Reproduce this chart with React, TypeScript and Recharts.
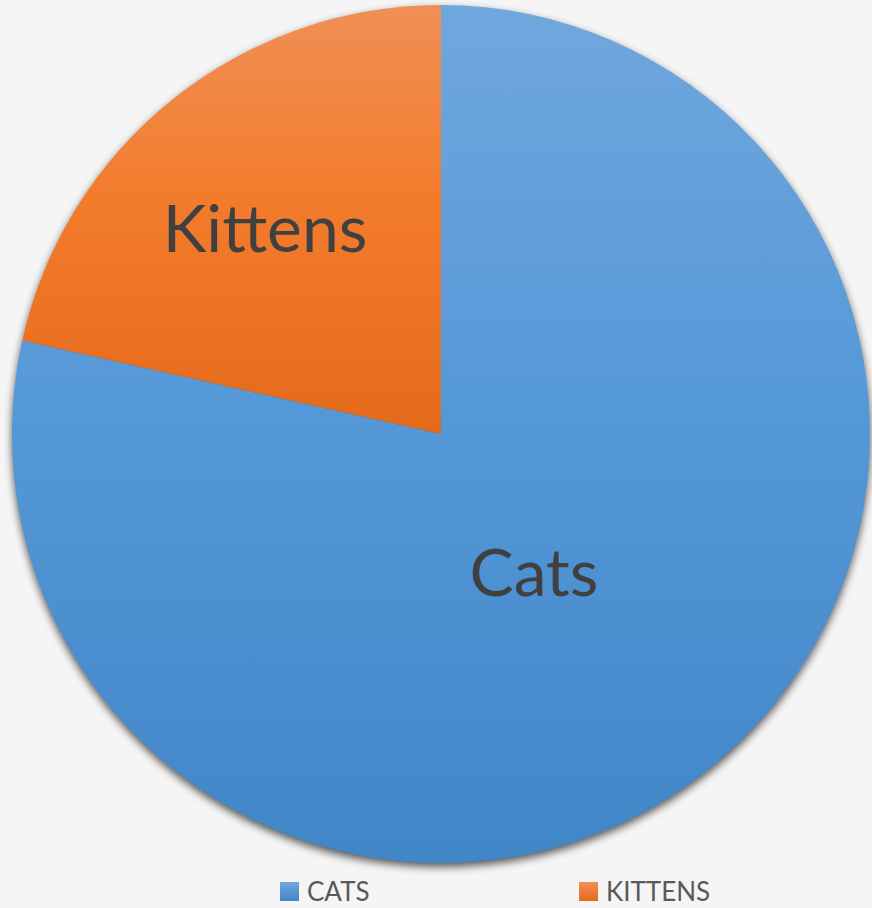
import React from "react";
import { PieChart, Pie, Cell, Legend } from "recharts";

const categories = ["Cats", "Kittens"];
const shares = [78.5, 21.5];
const legendLabels = ["CATS", "KITTENS"];

const data = categories.map((name, i) => ({ name, value: shares[i] }));

const gradients: Record<string, [string, string, string]> = {
  Cats: ["#70a7dd", "#5699d9", "#4186c7"],
  Kittens: ["#f08f56", "#f37c2c", "#e46a1b"],
};

// label placement (fraction of radius, angle nudge) tuned to the picture
const labelPlace: Record<string, { r: number; da: number }> = {
  Cats: { r: 0.388, da: -4.75 },
  Kittens: { r: 0.631, da: 1.85 },
};

const RAD = Math.PI / 180;
const FONT = "Lato, 'Open Sans', sans-serif";

const renderLabel = (p: any) => {
  const place = labelPlace[p.name];
  const a = (p.midAngle + place.da) * RAD;
  const r = p.outerRadius * place.r;
  const x = p.cx + r * Math.cos(a);
  const y = p.cy - r * Math.sin(a);
  return (
    <text
      x={x}
      y={y + 23.5}
      textAnchor="middle"
      fontSize={66}
      fontFamily={FONT}
      fill="#404040"
    >
      {p.name}
    </text>
  );
};

const legendX = [280, 579];

const renderLegend = () => (
  <div style={{ position: "relative", width: 872, height: 40 }}>
    {categories.map((c, i) => (
      <div
        key={c}
        style={{
          position: "absolute",
          left: legendX[i],
          top: 0,
          display: "flex",
          alignItems: "center",
          fontFamily: FONT,
          fontSize: 26,
          color: "#595959",
          whiteSpace: "nowrap",
        }}
      >
        <span
          style={{
            display: "inline-block",
            width: 19,
            height: 19,
            marginRight: 8,
            background: `linear-gradient(${gradients[c][0]}, ${gradients[c][2]})`,
          }}
        />
        {legendLabels[i]}
      </div>
    ))}
  </div>
);

export default function App() {
  return (
    <div style={{ width: 872, height: 908, background: "#f5f5f5", overflow: "hidden" }}>
      <style>{`body{margin:0}`}</style>
      <PieChart width={872} height={908} margin={{ top: 0, right: 0, bottom: 0, left: 0 }}>
        <defs>
          {categories.map((c) => (
            <linearGradient key={c} id={`grad-${c}`} x1="0" y1="0" x2="0" y2="1">
              <stop offset="0%" stopColor={gradients[c][0]} />
              <stop offset="45%" stopColor={gradients[c][1]} />
              <stop offset="100%" stopColor={gradients[c][2]} />
            </linearGradient>
          ))}
          <filter id="pieShadow" x="-10%" y="-10%" width="120%" height="120%">
            <feGaussianBlur in="SourceAlpha" stdDeviation="4.5" />
            <feOffset dx="0" dy="4" result="blur" />
            <feComponentTransfer>
              <feFuncA type="linear" slope="0.65" />
            </feComponentTransfer>
          </filter>
        </defs>
        {/* shadow disc behind the pie */}
        <Pie
          data={[{ name: "shadow", value: 1 }]}
          dataKey="value"
          cx={441}
          cy={434}
          outerRadius={429}
          startAngle={90}
          endAngle={-270}
          fill="#000"
          stroke="none"
          filter="url(#pieShadow)"
          legendType="none"
          isAnimationActive={false}
        />
        <Pie
          data={data}
          dataKey="value"
          nameKey="name"
          cx={441}
          cy={434}
          outerRadius={429}
          startAngle={90}
          endAngle={-270}
          stroke="none"
          label={renderLabel}
          labelLine={false}
          isAnimationActive={false}
        >
          {data.map((d) => (
            <Cell key={d.name} fill={`url(#grad-${d.name})`} />
          ))}
        </Pie>
        <Legend
          content={renderLegend}
          wrapperStyle={{ position: "absolute", top: 875, left: 0, bottom: "auto", width: 872 }}
        />
      </PieChart>
    </div>
  );
}
